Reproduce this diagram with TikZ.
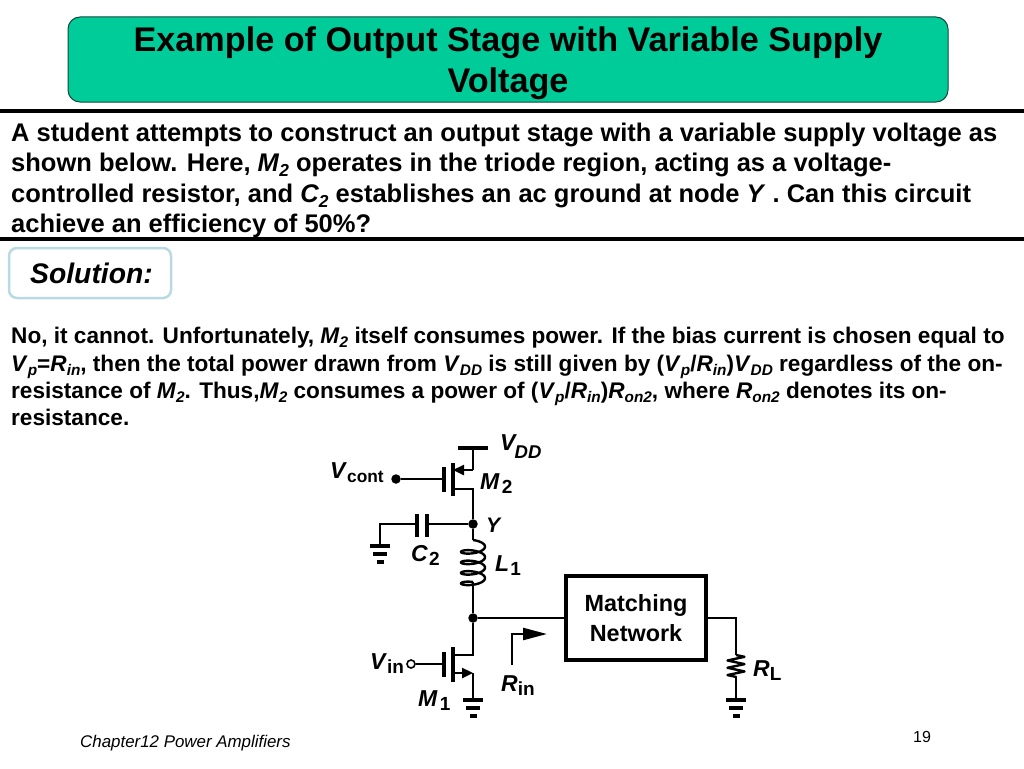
\documentclass[tikz,border=0pt]{standalone}
\usepackage{fontspec}
\setmainfont{Liberation Sans}
\usetikzlibrary{arrows.meta,calc,decorations.pathmorphing}
\definecolor{titlegreen}{RGB}{0,204,153}
\definecolor{solborder}{RGB}{185,218,226}
\definecolor{titleedge}{RGB}{20,70,60}
\newcommand{\lowsub}[1]{\raisebox{-0.22em}{\scalebox{0.68}{#1}}}
\newcommand{\sig}[2]{\textit{#1}\lowsub{\textit{#2}}}
\newcommand{\lab}[2]{\textit{#1}\raisebox{-0.2em}{\fontsize{19}{19}\selectfont #2}}
\tikzset{
	wire/.style={line width=2.4pt},
	bar/.style={line width=4.4pt},
	rule/.style={line width=4pt},
	dotj/.style={circle,fill=black,inner sep=0pt,minimum size=9.5pt},
	txt/.style={anchor=base west,inner sep=0pt},
	toptxt/.style={txt,font=\bfseries\fontsize{25.5}{28}\selectfont},
	bodytxt/.style={txt,font=\bfseries\fontsize{22.6}{24}\selectfont},
	cirtxt/.style={txt,font=\bfseries\fontsize{23}{26}\selectfont},
	tip/.style={wire,-{Triangle[length=11pt,width=10pt]}},
	gnd/.pic={
		\draw[line width=3.8pt] (-10,0) -- (10,0);
		\draw[line width=3.4pt] (-7,8) -- (7,8);
		\draw[line width=3.4pt] (-3.5,16) -- (3.5,16);
	}
}
\begin{document}
\begin{tikzpicture}[x=1pt,y=-1pt]
\useasboundingbox (0,0) rectangle (1024,768);
% title
\node[draw=titleedge,fill=titlegreen,line width=1pt,rounded corners=12pt,minimum width=880pt,minimum height=85pt,inner sep=0pt] (titlebox) at (508,59.5) {};
\node[anchor=base,inner sep=0pt,font=\bfseries\fontsize{34.2}{36}\selectfont] (title1) at (508,52) {Example of Output Stage with Variable Supply};
\node[anchor=base,inner sep=0pt,font=\bfseries\fontsize{34.2}{36}\selectfont] (title2) at (508,92) {Voltage};
\draw[rule] (0,110.5) -- (1024,110.5);
\draw[rule] (0,238.5) -- (1024,238.5);
% question
\node[toptxt] (q1) at (11,141) {A student attempts to construct an output stage with a variable supply voltage as};
\node[toptxt] (q2) at (11,171) {shown below. Here, \sig{M}{2} operates in the triode region, acting as a voltage-};
\node[toptxt] (q3) at (11,202) {controlled resistor, and \sig{C}{2} establishes an ac ground at node \textit{Y} . Can this circuit};
\node[toptxt] (q4) at (11,232) {achieve an efficiency of 50\%?};
% solution
\node[draw=solborder,line width=2.5pt,rounded corners=8pt,minimum width=162pt,minimum height=50pt,inner sep=0pt] (solbox) at (90,273) {};
\node[txt,font=\bfseries\itshape\fontsize{28.3}{30}\selectfont] (soltxt) at (30,283) {Solution:};
\node[bodytxt] (a1) at (11,343) {No, it cannot. Unfortunately, \sig{M}{2} itself consumes power. If the bias current is chosen equal to};
\node[bodytxt] (a2) at (11,371) {\sig{V}{p}=\sig{R}{in}, then the total power drawn from \sig{V}{DD} is still given by (\sig{V}{p}/\sig{R}{in})\sig{V}{DD} regardless of the on-};
\node[bodytxt] (a3) at (11,398) {resistance of \sig{M}{2}. Thus,\sig{M}{2} consumes a power of (\sig{V}{p}/\sig{R}{in})\sig{R}{on2}, where \sig{R}{on2} denotes its on-};
\node[bodytxt] (a4) at (11,425) {resistance.};
% M2
\coordinate (vddbar) at (473,448);
\coordinate (m2s) at (473,470);
\coordinate (m2ch) at (453,470);
\coordinate (m2d) at (473,489);
\coordinate (m2dch) at (453,489);
\coordinate (m2gate) at (444,479);
\node[dotj] (vcont) at (396,479) {};
\node[dotj] (nodey) at (473,524) {};
\draw[line width=3.4pt] (458,448) -- (488,448);
\draw[wire] (vddbar) -- (m2s);
\draw[tip] (m2s) -- (m2ch);
\draw[wire] (m2dch) -- (m2d) -- (nodey);
\draw[bar] (453,463) -- (453,496);
\draw[bar] (444,467) -- (444,492);
\draw[wire] (vcont) -- (m2gate);
% C2
\coordinate (c2r) at (427,524);
\coordinate (c2l) at (417,524);
\coordinate (c2gnd) at (380,546);
\draw[bar] (417,514) -- (417,537);
\draw[bar] (427,514) -- (427,537);
\draw[wire] (nodey) -- (c2r);
\draw[wire] (c2l) -| (c2gnd);
\pic at (c2gnd) {gnd};
% L1
\coordinate (l1top) at (473,540);
\coordinate (l1bot) at (473,582);
\node[dotj] (nodex) at (473,618) {};
\draw[wire] (nodey) -- (l1top);
\draw[wire,shift={(l1top)}] plot[domain=0:1440,samples=161,variable=\t,smooth] ({12*sin(\t)},{4+10.5*\t/360-4*cos(\t)});
\draw[wire] (l1bot) -- (nodex);
% M1
\coordinate (m1d) at (473,655);
\coordinate (m1dch) at (453,655);
\coordinate (m1s) at (473,673);
\coordinate (m1ch) at (453,673);
\coordinate (m1gnd) at (473,700);
\coordinate (m1gate) at (444,664);
\node[circle,draw=black,fill=white,line width=1.6pt,inner sep=0pt,minimum size=8pt] (vin) at (411,664) {};
\draw[wire] (nodex) -- (m1d) -- (m1dch);
\draw[tip] (m1ch) -- (m1s);
\draw[wire] (m1s) -- (m1gnd);
\draw[bar] (453,647) -- (453,682);
\draw[bar] (444,652) -- (444,677);
\draw[wire] (vin) -- (m1gate);
\pic at (m1gnd) {gnd};
% matching network
\node[draw,line width=3.5pt,minimum width=140pt,minimum height=84pt,inner sep=0pt,align=center,font=\bfseries\fontsize{23.4}{30}\selectfont] (match) at (636,618) {Matching\\Network};
\draw[wire] (nodex) -- (match);
% RL
\coordinate (rltop) at (736,655);
\coordinate (rlbot) at (736,677);
\coordinate (rlgnd) at (736,700);
\draw[wire] (match.east) -| (rltop);
\draw[wire,line join=round,decorate,decoration={zigzag,amplitude=8.5pt,segment length=7.3pt}] (rltop) -- (rlbot);
\draw[wire] (rlbot) -- (rlgnd);
\pic at (rlgnd) {gnd};
% Rin arrow
\coordinate (rina) at (512,665);
\coordinate (rinb) at (512,634);
\coordinate (rinc) at (547,634);
\draw[wire,-{Triangle[length=24pt,width=12pt]}] (rina) -- (rinb) -- (rinc);
% labels
\node[cirtxt] (lvcont) at (330,478) {\textit{V}\raisebox{-0.2em}{\fontsize{17.3}{18}\selectfont cont}};
\node[cirtxt] (lvdd) at (500,450) {\textit{V}\hspace{-2.5pt}\raisebox{-8pt}{\fontsize{18.5}{20}\selectfont\textit{DD}}};
\node[cirtxt] (lm2) at (480,489) {\lab{M}{\hspace{2pt}2}};
\node[txt,font=\bfseries\itshape\fontsize{21}{24}\selectfont] (ly) at (486,532) {Y};
\node[cirtxt] (lc2) at (411,561) {\lab{C}{\hspace{1pt}2}};
\node[cirtxt] (ll1) at (495,571) {\lab{L}{\hspace{1pt}1}};
\node[cirtxt] (lvin) at (370,669) {\lab{V}{in}};
\node[cirtxt] (lm1) at (418,706) {\lab{M}{\hspace{2pt}1}};
\node[cirtxt] (lrin) at (501,691) {\lab{R}{in}};
\node[cirtxt] (lrl) at (753,676) {\lab{R}{L}};
% footer
\node[txt,font=\itshape\fontsize{16.9}{18}\selectfont] (chap) at (80,747) {Chapter12 Power Amplifiers};
\node[txt,font=\fontsize{16}{18}\selectfont] (pagenum) at (913,742) {19};
\end{tikzpicture}
\end{document}
